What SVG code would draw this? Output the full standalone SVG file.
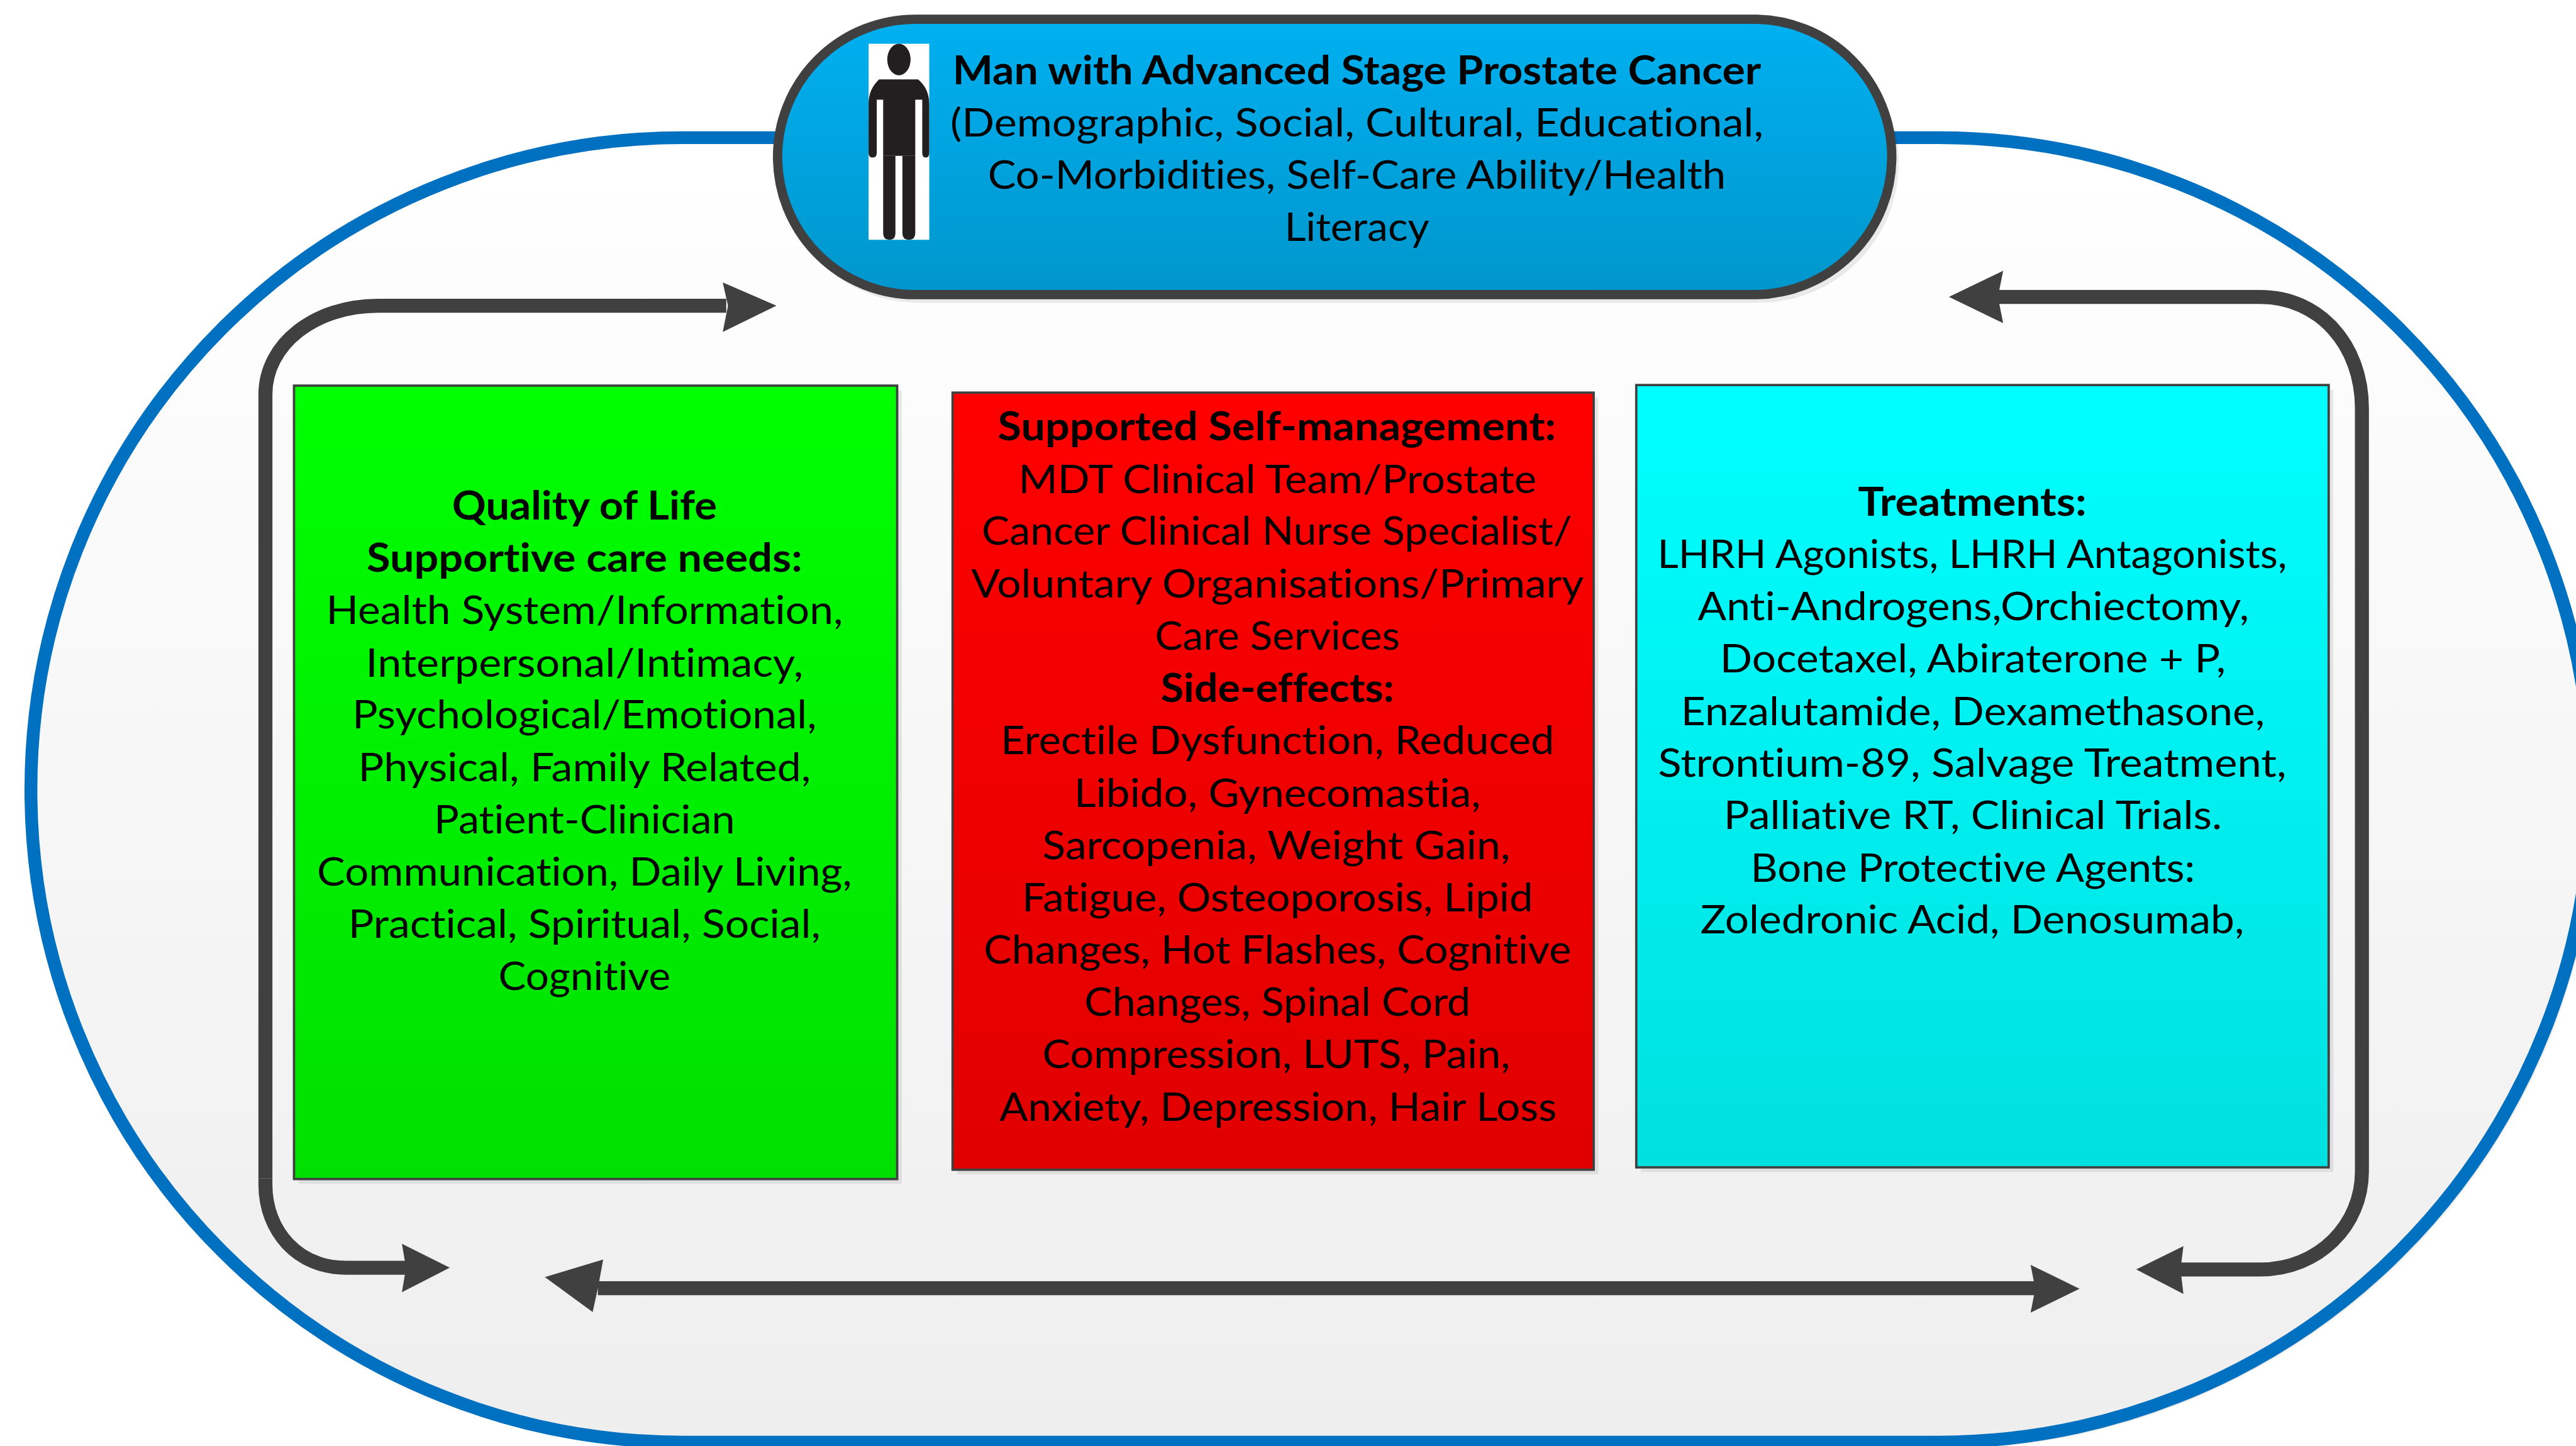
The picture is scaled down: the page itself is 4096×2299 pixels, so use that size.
<svg xmlns="http://www.w3.org/2000/svg" width="4096" height="2299" viewBox="0 0 4096 2299">
<style>
text{font-family:"Lato","Liberation Sans",sans-serif;font-size:67px;fill:#000;text-anchor:middle;font-variant-ligatures:none}
.b{font-weight:700}
.wire{fill:none;stroke:#404040;stroke-width:24}
.head{fill:#404040;stroke:none}
.box{stroke:#404040;stroke-width:4}
.shadow{fill:#000;fill-opacity:.08}
</style>
<defs>
<linearGradient id="gO" x1="0" y1="0" x2="0" y2="1"><stop offset="0" stop-color="#fff"/><stop offset="1" stop-color="#eee"/></linearGradient>
<linearGradient id="gP" x1="0" y1="0" x2="0" y2="1"><stop offset="0" stop-color="#00b0f0"/><stop offset="1" stop-color="#0096cc"/></linearGradient>
<linearGradient id="gG" x1="0" y1="0" x2="0" y2="1"><stop offset="0" stop-color="#0f0"/><stop offset="1" stop-color="#00e000"/></linearGradient>
<linearGradient id="gR" x1="0" y1="0" x2="0" y2="1"><stop offset="0" stop-color="#f00"/><stop offset="1" stop-color="#e00000"/></linearGradient>
<linearGradient id="gC" x1="0" y1="0" x2="0" y2="1"><stop offset="0" stop-color="#0ff"/><stop offset="1" stop-color="#00e0e0"/></linearGradient>
</defs>
<g transform="scale(0.92754)">
<g id="outer-cycle">
<rect class="shadow" x="49" y="232" width="4404" height="2252" rx="1126"/>
<rect x="53" y="236" width="4388" height="2236" rx="1118" ry="1118" fill="url(#gO)" stroke="#0070c0" stroke-width="22"/>
</g>
<g id="connectors">
<path class="wire" d="M455 2020V676C455 590 540 524 648 524H1245"/>
<path class="head" d="M1331 524L1239 484L1248 524L1239 569Z"/>
<path class="wire" d="M455 2020V2030C455 2110 510 2173 593 2173H700"/>
<path class="head" d="M771 2173L689 2132L696 2173L689 2215Z"/>
<path class="wire" d="M3425 509H3875C3975 509 4049 590 4049 700V2008C4049 2100 3975 2176 3875 2176H3735"/>
<path class="head" d="M3341 509L3434 464L3425 509L3434 554Z"/>
<path class="head" d="M3662 2176L3743 2136L3738 2176L3743 2218Z"/>
<path class="wire" d="M1025 2208H3490"/>
<path class="head" d="M934 2189L1034 2159L1025 2208L1016 2249Z"/>
<path class="head" d="M3565 2209L3481 2168L3489 2209L3481 2250Z"/>
</g>
<g id="patient">
<rect class="shadow" x="1335" y="39" width="1920" height="480" rx="240"/>
<rect x="1333" y="33" width="1910" height="472" rx="236" fill="url(#gP)" stroke="#404040" stroke-width="16"/>
<rect x="1489" y="75" width="104" height="336" fill="#fff"/>
<ellipse cx="1541" cy="102" rx="20" ry="27" fill="#231f20"/>
<path fill="#231f20" d="M1507 136H1574C1586 146 1593 160 1593 178V262Q1593 270 1587 270Q1581 270 1581 262V171H1569V267H1514V171H1503V262Q1503 270 1496 270Q1489 270 1489 262V178C1489 160 1496 146 1507 136Z"/>
<path fill="#231f20" d="M1514 267H1535V400Q1535 411 1525 411Q1514 411 1514 400ZM1547 267H1569V400Q1569 411 1558 411Q1547 411 1547 400Z"/>
<text class="b" x="2326" y="145" textLength="1386" lengthAdjust="spacingAndGlyphs">Man with Advanced Stage Prostate Cancer</text>
<text x="2326" y="234" textLength="1394" lengthAdjust="spacingAndGlyphs">(Demographic, Social, Cultural, Educational,</text>
<text x="2326" y="323" textLength="1265" lengthAdjust="spacingAndGlyphs">Co-Morbidities, Self-Care Ability/Health</text>
<text x="2326" y="413" textLength="248" lengthAdjust="spacingAndGlyphs">Literacy</text>
</g>
<g id="quality-of-life">
<rect class="shadow" x="512" y="669" width="1034" height="1360"/>
<rect class="box" x="504" y="661" width="1034" height="1360" fill="url(#gG)"/>
<text class="b" x="1002" y="891" textLength="454" lengthAdjust="spacingAndGlyphs">Quality of Life</text>
<text class="b" x="1002" y="980" textLength="747" lengthAdjust="spacingAndGlyphs">Supportive care needs:</text>
<text x="1002" y="1070" textLength="886" lengthAdjust="spacingAndGlyphs">Health System/Information,</text>
<text x="1002" y="1160" textLength="750" lengthAdjust="spacingAndGlyphs">Interpersonal/Intimacy,</text>
<text x="1002" y="1249" textLength="796" lengthAdjust="spacingAndGlyphs">Psychological/Emotional,</text>
<text x="1002" y="1339" textLength="776" lengthAdjust="spacingAndGlyphs">Physical, Family Related,</text>
<text x="1002" y="1428" textLength="516" lengthAdjust="spacingAndGlyphs">Patient-Clinician</text>
<text x="1002" y="1518" textLength="917" lengthAdjust="spacingAndGlyphs">Communication, Daily Living,</text>
<text x="1002" y="1607" textLength="810" lengthAdjust="spacingAndGlyphs">Practical, Spiritual, Social,</text>
<text x="1002" y="1697" textLength="295" lengthAdjust="spacingAndGlyphs">Cognitive</text>
</g>
<g id="self-management">
<rect class="shadow" x="1641" y="681" width="1099" height="1332"/>
<rect class="box" x="1633" y="673" width="1099" height="1332" fill="url(#gR)"/>
<text class="b" x="2189" y="755" textLength="957" lengthAdjust="spacingAndGlyphs">Supported Self-management:</text>
<text x="2190" y="845" textLength="888" lengthAdjust="spacingAndGlyphs">MDT Clinical Team/Prostate</text>
<text x="2189" y="934" textLength="1012" lengthAdjust="spacingAndGlyphs">Cancer Clinical Nurse Specialist/</text>
<text x="2190" y="1024" textLength="1050" lengthAdjust="spacingAndGlyphs">Voluntary Organisations/Primary</text>
<text x="2190" y="1114" textLength="420" lengthAdjust="spacingAndGlyphs">Care Services</text>
<text class="b" x="2190" y="1203" textLength="400" lengthAdjust="spacingAndGlyphs">Side-effects:</text>
<text x="2190" y="1293" textLength="949" lengthAdjust="spacingAndGlyphs">Erectile Dysfunction, Reduced</text>
<text x="2190" y="1383" textLength="697" lengthAdjust="spacingAndGlyphs">Libido, Gynecomastia,</text>
<text x="2188" y="1473" textLength="802" lengthAdjust="spacingAndGlyphs">Sarcopenia, Weight Gain,</text>
<text x="2190" y="1562" textLength="876" lengthAdjust="spacingAndGlyphs">Fatigue, Osteoporosis, Lipid</text>
<text x="2190" y="1652" textLength="1007" lengthAdjust="spacingAndGlyphs">Changes, Hot Flashes, Cognitive</text>
<text x="2190" y="1741" textLength="662" lengthAdjust="spacingAndGlyphs">Changes, Spinal Cord</text>
<text x="2188" y="1831" textLength="802" lengthAdjust="spacingAndGlyphs">Compression, LUTS, Pain,</text>
<text x="2191" y="1921" textLength="955" lengthAdjust="spacingAndGlyphs">Anxiety, Depression, Hair Loss</text>
</g>
<g id="treatments">
<rect class="shadow" x="2813" y="668" width="1187" height="1341"/>
<rect class="box" x="2805" y="660" width="1187" height="1341" fill="url(#gC)"/>
<text class="b" x="3381" y="884" textLength="392" lengthAdjust="spacingAndGlyphs">Treatments:</text>
<text x="3381" y="974" textLength="1079" lengthAdjust="spacingAndGlyphs">LHRH Agonists, LHRH Antagonists,</text>
<text x="3383" y="1063" textLength="945" lengthAdjust="spacingAndGlyphs">Anti-Androgens,Orchiectomy,</text>
<text x="3382" y="1153" textLength="867" lengthAdjust="spacingAndGlyphs">Docetaxel, Abiraterone + P,</text>
<text x="3382" y="1243" textLength="1001" lengthAdjust="spacingAndGlyphs">Enzalutamide, Dexamethasone,</text>
<text x="3381" y="1332" textLength="1077" lengthAdjust="spacingAndGlyphs">Strontium-89, Salvage Treatment,</text>
<text x="3382" y="1421" textLength="854" lengthAdjust="spacingAndGlyphs">Palliative RT, Clinical Trials.</text>
<text x="3382" y="1511" textLength="762" lengthAdjust="spacingAndGlyphs">Bone Protective Agents:</text>
<text x="3381" y="1600" textLength="932" lengthAdjust="spacingAndGlyphs">Zoledronic Acid, Denosumab,</text>
</g>
</g>
</svg>
